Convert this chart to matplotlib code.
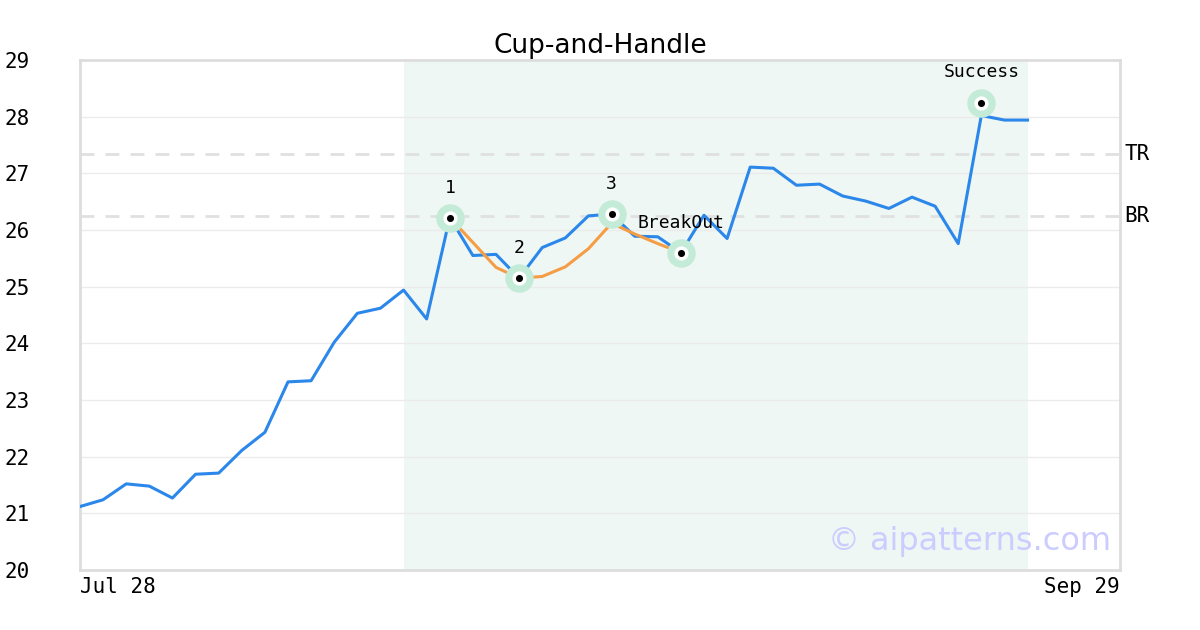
import matplotlib
matplotlib.use('Agg')
from matplotlib import pyplot as plt

# Data
price = [21.12, 21.24, 21.52, 21.48, 21.27, 21.69, 21.71, 22.11, 22.43, 23.32,
         23.34, 24.02, 24.53, 24.62, 24.94, 24.43, 26.22, 25.55, 25.57, 25.15,
         25.69, 25.86, 26.25, 26.28, 25.89, 25.88, 25.60, 26.26, 25.85, 27.11,
         27.09, 26.79, 26.81, 26.60, 26.51, 26.38, 26.58, 26.42, 25.76, 28.02,
         27.94, 27.94]
pattern_x = list(range(16, 27))
pattern_y = [26.22, 25.78, 25.34, 25.15, 25.18, 25.35, 25.67, 26.12, 25.93, 25.76, 25.60]
point_x = [16, 19, 23, 26, 39]
point_y = [26.22, 25.15, 26.28, 25.60, 28.25]
point_labels = ['1', '2', '3', 'BreakOut', 'Success']
tr_level = 27.34
br_level = 26.25
shade_span = (14, 41)
x_ticks = [0, 45]
x_labels = ['Jul 28', 'Sep 29']

# Style
blue = '#2b87ea'
orange = '#f59d45'
halo = '#c3ebd7'
grey = '#e0e0e0'
mono = 'DejaVu Sans Mono'

fig = plt.figure(figsize=(12, 6.3), dpi=100)
ax = fig.add_axes([80/1200, 1-570/630, 1040/1200, 510/630])

ax.axvspan(*shade_span, color='#eff7f4', lw=0, zorder=0)
for y in range(21, 29):
    ax.axhline(y, color='#ebebeb', lw=1, zorder=1)
ax.axhline(tr_level, color=grey, lw=2, ls=(0, (5, 4)), zorder=1)
ax.axhline(br_level, color=grey, lw=2, ls=(0, (5, 4)), zorder=1)

ax.plot(range(len(price)), price, color=blue, lw=2.2, zorder=3)
ax.plot(pattern_x, pattern_y, color=orange, lw=2.2, zorder=4)

ax.scatter(point_x, point_y, s=420, color=halo, zorder=5, lw=0)
ax.scatter(point_x, point_y, s=105, color='white', zorder=6, lw=0)
ax.scatter(point_x, point_y, s=26, color='black', zorder=7, lw=0)
for x, y, t in zip(point_x, point_y, point_labels):
    ax.text(x, y + 0.53, t, ha='center', va='center', fontsize=13,
            family=mono, zorder=8)

ax.text(45.2, tr_level, 'TR', ha='left', va='center', fontsize=15, family=mono)
ax.text(45.2, br_level, 'BR', ha='left', va='center', fontsize=15, family=mono)

ax.text(44.6, 20.5, '\u00a9 aipatterns.com', ha='right', va='center',
        fontsize=23, color='#ccccff', zorder=9)

ax.set_xlim(0, 45)
ax.set_ylim(20, 29)
ax.set_yticks(range(20, 30))
ax.set_yticklabels([str(v) for v in range(20, 30)], family=mono, fontsize=15)
ax.tick_params(axis='y', length=0, pad=54)
for lab in ax.get_yticklabels():
    lab.set_horizontalalignment('left')
ax.set_xticks(x_ticks)
ax.set_xticklabels(x_labels, family=mono, fontsize=15)
ax.tick_params(axis='x', length=0, pad=5)
xl = ax.get_xticklabels()
xl[0].set_horizontalalignment('left')
xl[1].set_horizontalalignment('right')

for s in ax.spines.values():
    s.set_color('#dddddd')
    s.set_linewidth(2)

ax.set_title('Cup-and-Handle', fontsize=19, pad=5)

plt.savefig('out.png', dpi=100)
